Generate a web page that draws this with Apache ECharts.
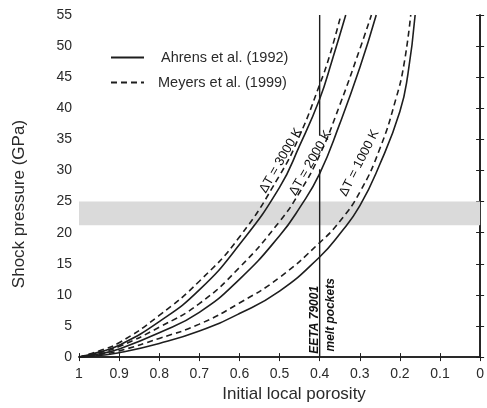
<!DOCTYPE html>
<html>
<head>
<meta charset="utf-8">
<script src="https://cdn.jsdelivr.net/npm/echarts@6/dist/echarts.min.js"></script>
<style>
  body { margin: 0; background: #fff; }
  #chart { width: 487px; height: 408px; }
</style>
</head>
<body>
<div id="chart"></div>
<script>
// porosity / pressure
var phiS3 = [1, 0.95, 0.9, 0.8, 0.7, 0.6, 0.5, 0.45, 0.4, 0.37, 0.335];
var pS3   = [0, 0.8, 1.9, 5.7, 10.8, 18.1, 27.3, 34, 41.5, 47.5, 55];
var phiD3 = [1, 0.95, 0.9, 0.8, 0.7, 0.6, 0.5, 0.45, 0.4, 0.375, 0.347];
var pD3   = [0, 1.0, 2.3, 6.7, 12.2, 19.3, 29.2, 35.6, 43.8, 48.5, 55];

var phiS2 = [1, 0.95, 0.9, 0.8, 0.7, 0.6, 0.5, 0.45, 0.4, 0.35, 0.3, 0.259];
var pS2   = [0, 0.5, 1.3, 3.9, 7.2, 12.5, 19.5, 24, 29.5, 37.5, 46.5, 55];
var phiD2 = [1, 0.95, 0.9, 0.8, 0.7, 0.6, 0.5, 0.45, 0.4, 0.35, 0.3, 0.271];
var pD2   = [0, 0.7, 1.7, 4.8, 8.6, 14.4, 21.8, 26.5, 32.5, 40.5, 49.5, 55];

var phiS1 = [1, 0.95, 0.9, 0.8, 0.7, 0.6, 0.5, 0.4, 0.35, 0.3, 0.25, 0.2, 0.18, 0.162];
var pS1   = [0, 0.25, 0.7, 2.2, 4.2, 7.0, 10.6, 16.1, 19.8, 24.3, 31, 39.5, 45.5, 55];
var phiD1 = [1, 0.95, 0.9, 0.8, 0.7, 0.6, 0.5, 0.4, 0.35, 0.3, 0.25, 0.21, 0.19, 0.173];
var pD1   = [0, 0.4, 1.0, 3.0, 5.3, 8.7, 12.8, 18.4, 21.8, 26.5, 33.5, 41.5, 47, 55];

var bandLow = 21.2, bandHigh = 25;          // grey pressure band
var meltPhi = 0.4;                          // EETA 79001 melt pockets
var meltLow = [0, 30.2], meltHigh = [35.6, 55];

var solidName = 'Ahrens et al. (1992)';
var dashName = 'Meyers et al. (1999)';

function pairs(xs, ys) {
  return xs.map(function (x, i) { return [x, ys[i]]; });
}

var ink = '#1e1e1e';
var font = 'Liberation Sans, Arial, sans-serif';

function curve(name, xs, ys, dashed) {
  return {
    name: name,
    type: 'line',
    data: pairs(xs, ys),
    smooth: 0.5,
    showSymbol: false,
    symbol: 'none',
    z: 3,
    lineStyle: { color: ink, width: 1.6, type: dashed ? [6, 4] : 'solid' },
    itemStyle: { color: ink }
  };
}

function note(text, x, y, rot, extra) {
  return {
    type: 'scatter',
    symbolSize: 0,
    silent: true,
    z: 5,
    itemStyle: { color: ink, opacity: 1 },
    data: [{ value: [x, y], name: text }],
    label: Object.assign({
      show: true,
      position: 'inside',
      formatter: '{b}',
      rotate: rot,
      color: '#111',
      opacity: 1,
      textBorderWidth: 0,
      fontFamily: font,
      fontSize: 13
    }, extra || {})
  };
}

var chart = echarts.init(document.getElementById('chart'));

var frameLine = { lineStyle: { color: ink, width: 1.6 } };
var tick = { inside: true, length: 4, lineStyle: { color: ink, width: 1 } };

chart.setOption({
  animation: false,
  grid: { left: 79, right: -1, top: 15, bottom: 47 },
  legend: {
    orient: 'vertical',
    left: 105,
    top: 45,
    itemWidth: 33,
    itemHeight: 14,
    itemGap: 10,
    itemStyle: { opacity: 0 },
    textStyle: { fontFamily: font, fontSize: 14.5, color: '#2a2a2a', lineHeight: 14 },
    data: [
      { name: solidName, textStyle: { padding: [0, 0, 0, 12] } },
      { name: dashName, textStyle: { padding: [0, 0, 0, 9] } }
    ]
  },
  xAxis: [
    {
      type: 'value', min: 0, max: 1, interval: 0.1, inverse: true, position: 'bottom',
      axisLine: frameLine, axisTick: tick, splitLine: { show: false },
      axisLabel: { color: '#2a2a2a', fontFamily: font, fontSize: 14, margin: 10 },
      name: 'Initial local porosity', nameLocation: 'middle', nameGap: 24,
      nameTextStyle: { color: '#2a2a2a', fontFamily: font, fontSize: 17, padding: [0, 0, 0, 29] }
    },
    {
      type: 'value', min: 0, max: 1, interval: 0.1, inverse: true, position: 'top',
      axisLine: frameLine, axisTick: tick, splitLine: { show: false },
      axisLabel: { show: false }
    }
  ],
  yAxis: [
    {
      type: 'value', min: 0, max: 55, interval: 5, position: 'left',
      axisLine: { show: true, lineStyle: frameLine.lineStyle }, axisTick: tick, splitLine: { show: false },
      axisLabel: { color: '#2a2a2a', fontFamily: font, fontSize: 14, margin: 7 },
      name: 'Shock pressure (GPa)', nameLocation: 'middle', nameGap: 51,
      nameTextStyle: { color: '#2a2a2a', fontFamily: font, fontSize: 17, padding: [0, 36, 0, 0] }
    },
    {
      type: 'value', min: 0, max: 55, interval: 5, position: 'right',
      axisLine: { show: true, lineStyle: frameLine.lineStyle }, axisTick: tick, splitLine: { show: false },
      axisLabel: { show: false }
    }
  ],
  series: [
    {
      type: 'line', data: [], z: 1, silent: true,
      markArea: {
        silent: true,
        itemStyle: { color: '#dadada' },
        data: [[{ yAxis: bandLow }, { yAxis: bandHigh }]]
      }
    },
    {
      type: 'line', data: [[meltPhi, meltLow[0]], [meltPhi, meltLow[1]]], symbol: 'none', z: 2,
      lineStyle: { color: ink, width: 1.4 }
    },
    {
      type: 'line', data: [[meltPhi, meltHigh[0]], [meltPhi, meltHigh[1]]], symbol: 'none', z: 2,
      lineStyle: { color: ink, width: 1.4 }
    },
    curve(solidName, phiS3, pS3, false),
    curve(dashName, phiD3, pD3, true),
    curve(solidName, phiS2, pS2, false),
    curve(dashName, phiD2, pD2, true),
    curve(solidName, phiS1, pS1, false),
    curve(dashName, phiD1, pD1, true),
    note('ΔT = 3000 K', 0.497, 31.6, 60),
    note('ΔT = 2000 K', 0.423, 31.2, 60),
    note('ΔT = 1000 K', 0.301, 31.2, 63),
    note('EETA 79001', 0.413, 6.0, 90, { fontSize: 12, fontWeight: 'bold', fontStyle: 'italic' }),
    note('melt pockets', 0.372, 6.8, 90, { fontSize: 12, fontWeight: 'bold', fontStyle: 'italic' })
  ]
});
</script>
</body>
</html>
